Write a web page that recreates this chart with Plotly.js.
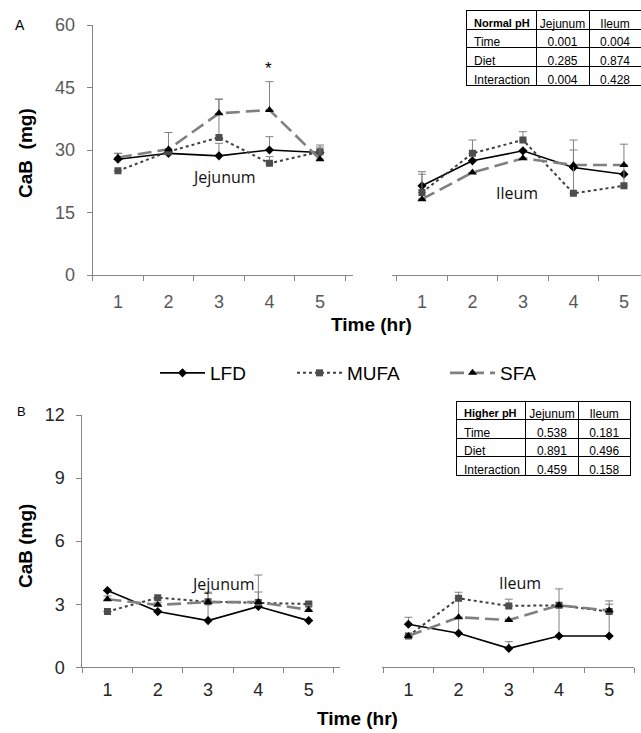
<!DOCTYPE html>
<html>
<head>
<meta charset="utf-8">
<script src="https://cdn.plot.ly/plotly-3.0.1.min.js"></script>
<style>html,body{margin:0;padding:0;background:#fff;}#chart{width:641px;height:733px;}</style>
</head>
<body>
<div id="chart"></div>
<script>
// ---------- data ----------
const timeCats = ['1', '2', '3', '4', '5'];
const seriesNames = ['LFD', 'MUFA', 'SFA'];

// Panel A (normal pH) - Jejunum
const lfdAJ  = [27.8, 29.2, 28.6, 30.0, 29.4];
const lfdAJErr = [1.4, 0, 3.0, 3.2, 0.6];
const mufaAJ = [25.0, 29.6, 33.0, 26.8, 29.6];
const mufaAJErr = [0, 0, 9.2, 1.6, 1.1];
const sfaAJ  = [28.2, 30.2, 38.8, 39.6, 27.8];
const sfaAJErr = [1.0, 4.0, 3.4, 6.8, 3.4];

// Panel A (normal pH) - Ileum
const lfdAI  = [21.4, 27.4, 29.8, 25.8, 24.2];
const lfdAIErr = [2.8, 0, 0, 0, 0];
const mufaAI = [19.8, 29.2, 32.4, 19.6, 21.4];
const mufaAIErr = [5.0, 3.2, 2.0, 12.8, 10.0];
const sfaAI  = [18.2, 24.6, 28.0, 26.4, 26.4];
const sfaAIErr = [0, 0, 0, 3.6, 0];

// Panel B (higher pH) - Jejunum
const lfdBJ  = [3.65, 2.65, 2.22, 2.89, 2.22];
const lfdBJErr = [0, 0, 1.35, 1.5, 0];
const mufaBJ = [2.65, 3.31, 3.12, 3.08, 3.01];
const mufaBJErr = [0, 0, 0.4, 0.5, 0.1];
const sfaBJ  = [3.24, 2.97, 3.10, 3.10, 2.73];
const sfaBJErr = [0.15, 0.1, 0, 0, 0.2];

// Panel B (higher pH) - Ileum
const lfdBI  = [2.05, 1.62, 0.90, 1.49, 1.49];
const lfdBIErr = [0.33, 1.95, 0.32, 2.24, 1.67];
const mufaBI = [1.49, 3.28, 2.92, 2.95, 2.65];
const mufaBIErr = [0, 0, 0.32, 0, 0.35];
const sfaBI  = [1.49, 2.38, 2.25, 2.95, 2.70];
const sfaBIErr = [0, 0, 0, 0, 0];

// p-value tables
const tableRowLabels = ['Time', 'Diet', 'Interaction'];
const tableColHeads = ['Jejunum', 'Ileum'];
const normalTitle = 'Normal\u00a0pH';
const normalJejunum = ['0.001', '0.285', '0.004'];
const normalIleum   = ['0.004', '0.874', '0.428'];
const higherTitle = 'Higher\u00a0pH';
const higherJejunum = ['0.538', '0.891', '0.459'];
const higherIleum   = ['0.181', '0.496', '0.158'];

// ---------- styles ----------
const W = 641, H = 733;
const px = v => v / W;
const py = v => 1 - v / H;
const errColor = '#808080';
const styles = {
  LFD:  {line: {color: '#000000', width: 1.6}, marker: {symbol: 'diamond', size: 7, color: '#000000'}},
  MUFA: {line: {color: '#404040', width: 2, dash: 'dot'}, marker: {symbol: 'square', size: 7, color: '#4d4d4d'}},
  SFA:  {line: {color: '#808080', width: 2.6, dash: '14px,6px'}, marker: {symbol: 'triangle-up', size: 8, color: '#000000'}}
};
const legendOf = {LFD: 'legend', MUFA: 'legend2', SFA: 'legend3'};

function mk(name, y, err, xa, ya, showLeg) {
  const s = styles[name];
  return {
    type: 'scatter', mode: 'lines+markers', name: name,
    x: timeCats, y: y, xaxis: xa, yaxis: ya,
    line: s.line, marker: s.marker,
    error_y: {type: 'data', symmetric: false, array: err, arrayminus: err.map(() => 0),
              color: errColor, thickness: 1, width: 4},
    showlegend: showLeg, legend: legendOf[name], hoverinfo: 'skip'
  };
}

const traces = [
  mk('LFD', lfdAJ, lfdAJErr, 'x', 'y', true),
  mk('MUFA', mufaAJ, mufaAJErr, 'x', 'y', true),
  mk('SFA', sfaAJ, sfaAJErr, 'x', 'y', true),
  mk('LFD', lfdAI, lfdAIErr, 'x2', 'y2', false),
  mk('MUFA', mufaAI, mufaAIErr, 'x2', 'y2', false),
  mk('SFA', sfaAI, sfaAIErr, 'x2', 'y2', false),
  mk('LFD', lfdBJ, lfdBJErr, 'x3', 'y3', false),
  mk('MUFA', mufaBJ, mufaBJErr, 'x3', 'y3', false),
  mk('SFA', sfaBJ, sfaBJErr, 'x3', 'y3', false),
  mk('LFD', lfdBI, lfdBIErr, 'x4', 'y4', false),
  mk('MUFA', mufaBI, mufaBIErr, 'x4', 'y4', false),
  mk('SFA', sfaBI, sfaBIErr, 'x4', 'y4', false)
];

const tblFont = {family: 'Liberation Sans, Arial, sans-serif', size: 12, color: '#000'};
function tbl(title, jej, ile, dom) {
  return {
    type: 'table', domain: dom,
    columnwidth: [70, 53, 52],
    header: {
      values: [title, tableColHeads[0], tableColHeads[1]],
      align: ['left', 'center', 'center'],
      height: 18.6,
      line: {color: '#000', width: 1},
      fill: {color: '#ffffff'},
      font: {family: 'Liberation Sans, Arial, sans-serif', size: [11, 12, 12], color: '#000',
             weight: ['bold', 'normal', 'normal']}
    },
    cells: {
      values: [tableRowLabels, jej, ile],
      align: ['left', 'center', 'center'],
      height: 18.6,
      line: {color: '#000', width: 1},
      fill: {color: '#ffffff'},
      font: tblFont
    }
  };
}
traces.push(tbl(normalTitle, normalJejunum, normalIleum, {x: [px(466), 1], y: [py(100), py(10.7)]}));
traces.push(tbl(higherTitle, higherJejunum, higherIleum, {x: [px(456), px(630.7)], y: [py(490), py(401)]}));

const axisGray = '#868686';
function xCat(dom, range, anchor, tickColor, standoff) {
  return {
    type: 'category', domain: dom, range: range, anchor: anchor,
    tickson: 'boundaries', ticks: 'outside', ticklen: 5, tickcolor: axisGray,
    showline: true, linecolor: axisGray, linewidth: 1, showgrid: false, zeroline: false,
    tickfont: {family: 'Liberation Sans, Arial, sans-serif', size: 18, color: tickColor},
    ticklabelstandoff: standoff, fixedrange: true
  };
}
function yLin(dom, range, dtick, anchor, visible, tickColor) {
  return {
    domain: dom, range: range, dtick: dtick, anchor: anchor, visible: visible,
    ticks: 'outside', ticklen: 5, tickcolor: axisGray,
    showline: true, linecolor: axisGray, linewidth: 1, showgrid: false, zeroline: false,
    tickfont: {family: 'Liberation Sans, Arial, sans-serif', size: 18, color: tickColor},
    ticklabelstandoff: 8, fixedrange: true
  };
}

const legendBase = (xp) => ({
  orientation: 'h', x: px(xp), xanchor: 'left', y: py(373), yanchor: 'middle',
  font: {family: 'Liberation Sans, Arial, sans-serif', size: 19, color: '#000'},
  bgcolor: 'rgba(0,0,0,0)', borderwidth: 0, itemwidth: 45
});

const annFont = {family: 'Open Sans, sans-serif', size: 16, color: '#111'};
const titleFont = {family: 'Liberation Sans, Arial, sans-serif', size: 19, color: '#000'};
function ann(text, x, y, font, extra) {
  return Object.assign({text: text, x: px(x), y: py(y), xref: 'paper', yref: 'paper', showarrow: false,
    xanchor: 'center', yanchor: 'middle', font: font}, extra || {});
}
const layout = {
  width: W, height: H, autosize: false,
  margin: {l: 0, r: 0, t: 0, b: 0},
  paper_bgcolor: '#ffffff', plot_bgcolor: '#ffffff',
  showlegend: true,
  xaxis:  xCat([px(92.7), px(353)], [-0.5, 4.654], 'y', '#595959', 10),
  yaxis:  yLin([py(275), py(25)], [0, 60], 15, 'x', true, '#595959'),
  xaxis2: xCat([px(391.7), 1], [-0.599, 4.338], 'y2', '#595959', 10),
  yaxis2: yLin([py(275), py(25)], [0, 60], 15, 'x2', false, '#595959'),
  xaxis3: xCat([px(82.3), px(340)], [-0.5, 4.623], 'y3', '#262626', 6),
  yaxis3: yLin([py(667.3), py(415)], [0, 12], 3, 'x3', true, '#262626'),
  xaxis4: xCat([px(381.7), px(634.3)], [-0.532, 4.5], 'y4', '#262626', 6),
  yaxis4: yLin([py(667.3), py(415)], [0, 12], 3, 'x4', false, '#262626'),
  legend: legendBase(155),
  legend2: legendBase(292),
  legend3: legendBase(445),
  annotations: [
    ann('A', 20, 25, {family: 'Liberation Sans, Arial, sans-serif', size: 14, color: '#000'}),
    ann('B', 21, 411, {family: 'Liberation Sans, Arial, sans-serif', size: 13, color: '#000'}),
    ann('<b>CaB  (mg)</b>', 25, 153, titleFont, {textangle: -90}),
    ann('<b>CaB (mg)</b>', 25, 546, titleFont, {textangle: -90}),
    ann('<b>Time (hr)</b>', 371.3, 324, titleFont),
    ann('<b>Time (hr)</b>', 357.5, 718, titleFont),
    ann('Jejunum', 223.7, 177, annFont),
    ann('Ileum', 517.3, 192.5, annFont),
    ann('Jejunum', 222.5, 584, annFont),
    ann('Ileum', 520, 582.5, annFont),
    ann('*', 268, 68, {family: 'Liberation Sans, Arial, sans-serif', size: 17, color: '#000'})
  ]
};

Plotly.newPlot('chart', traces, layout, {displayModeBar: false, staticPlot: true});
</script>
</body>
</html>
